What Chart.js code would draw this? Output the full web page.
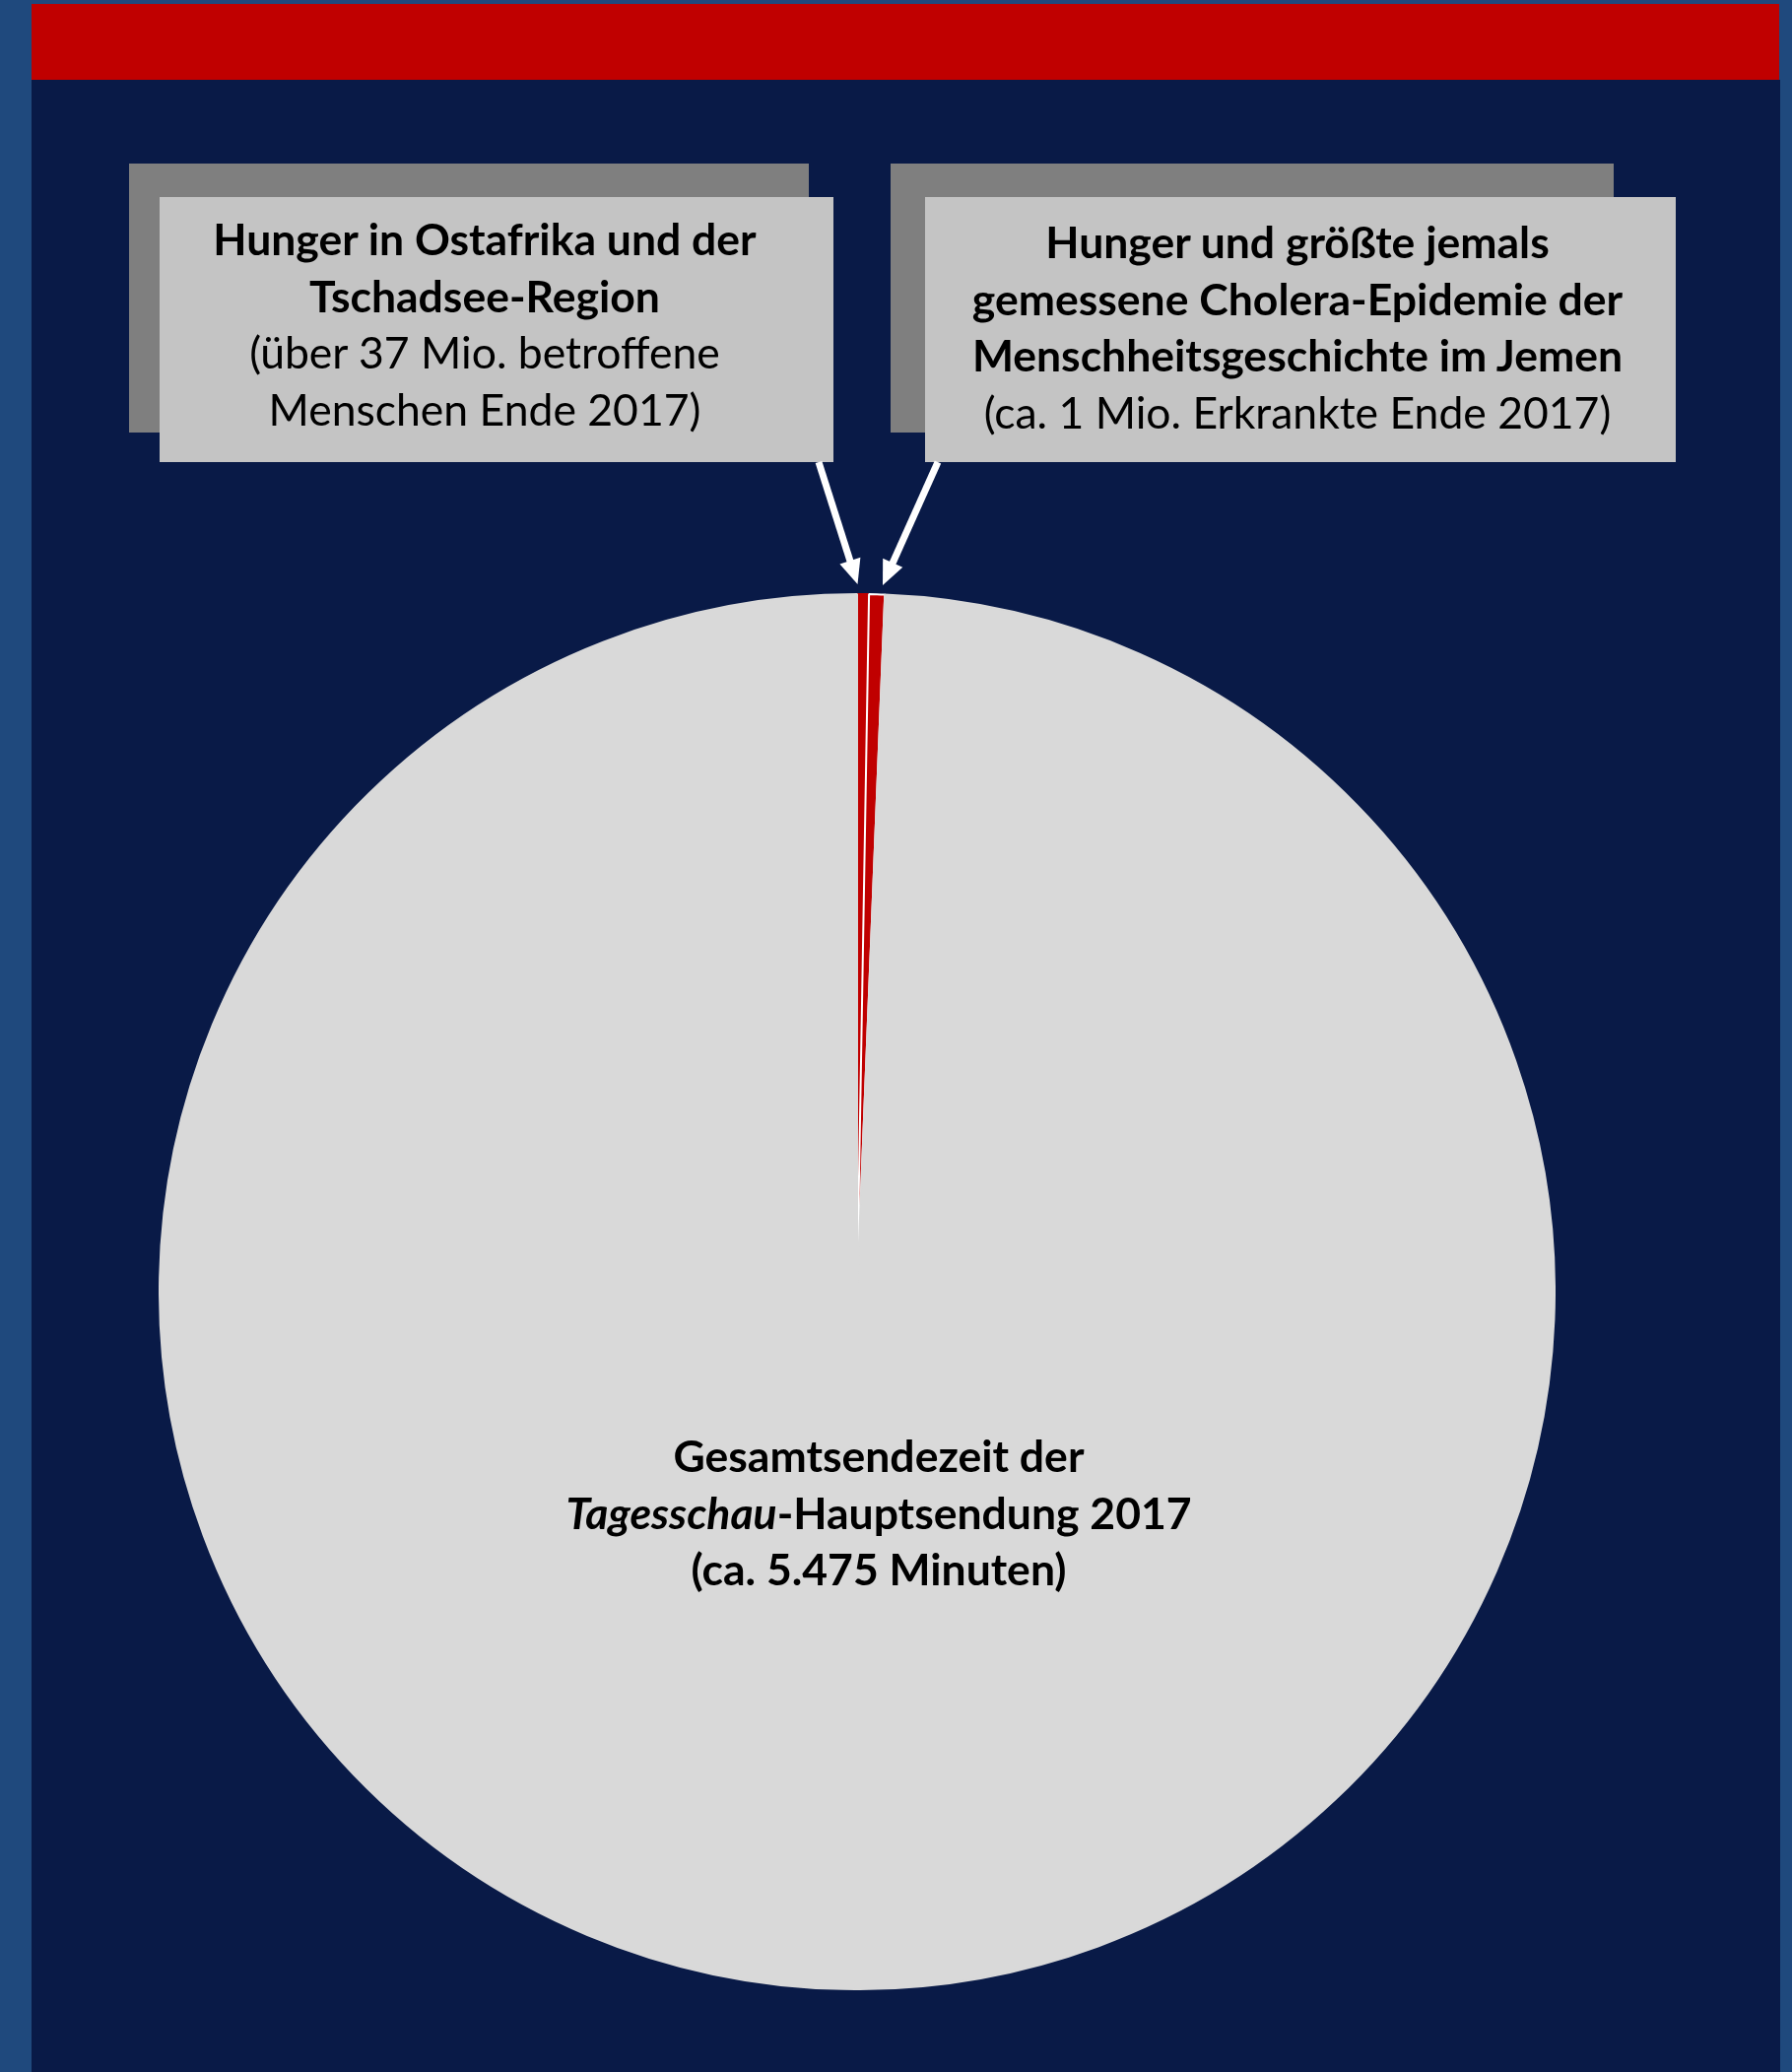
<!DOCTYPE html>
<html lang="de">
<head>
<meta charset="utf-8">
<script src="https://cdn.jsdelivr.net/npm/chart.js@4.4.1/dist/chart.umd.min.js"></script>
<style>
  html, body { margin: 0; padding: 0; }
  body { width: 1819px; height: 2103px; background: #1F497D; position: relative; overflow: hidden; font-family: Lato, "Open Sans", sans-serif; }
  #panel { position: absolute; left: 32px; top: 81px; width: 1775px; height: 2022px; background: #091A47; }
  #topbar { position: absolute; left: 32px; top: 4px; width: 1774px; height: 77px; background: #C00000; }
  .shadow { position: absolute; background: #7F7F7F; }
  .front { position: absolute; background: #C4C4C4; }
  .txt { position: absolute; text-align: center; color: #000; font-size: 44.5px; line-height: 57.5px; white-space: nowrap; transform: translateX(-50%); }
  .b { font-weight: 700; }
  #chartBox { position: absolute; left: 161px; top: 601.5px; width: 1418px; height: 1418px; }
  #arrows { position: absolute; left: 0; top: 0; }
</style>
</head>
<body>
<div id="topbar"></div>
<div id="panel"></div>
<div class="shadow" style="left:131px;top:166px;width:690px;height:273px;"></div>
<div class="front" style="left:162px;top:200px;width:684px;height:269px;"></div>
<div class="shadow" style="left:904px;top:166px;width:734px;height:273px;"></div>
<div class="front" style="left:939px;top:200px;width:762px;height:269px;"></div>
<div id="chartBox"><canvas id="c" width="1418" height="1418"></canvas></div>
<svg id="arrows" width="1819" height="2103"></svg>
<div class="txt" id="lbl0" style="left:492px;top:213px;"></div>
<div class="txt" id="lbl1" style="left:1317px;top:216px;"></div>
<div class="txt" id="lbl2" style="left:892px;top:1448px;"></div>
<script>
// ---- data ----
const categories = [
  "Hunger in Ostafrika und der Tschadsee-Region",
  "Hunger und Cholera-Epidemie im Jemen",
  "Gesamtsendezeit der Tagesschau-Hauptsendung 2017"
];
const minutes = [15, 20, 5475];
const sliceColors = ["#C00000", "#C00000", "#D9D9D9"];
const sliceBorders = ["#C00000", "#FFFFFF", "#D9D9D9"];
const boxTitles = [
  ["Hunger in Ostafrika und der", "Tschadsee-Region"],
  ["Hunger und größte jemals", "gemessene Cholera-Epidemie der", "Menschheitsgeschichte im Jemen"]
];
const boxNotes = [
  ["(über 37 Mio. betroffene", "Menschen Ende 2017)"],
  ["(ca. 1 Mio. Erkrankte Ende 2017)"]
];
const centerLines = ["Gesamtsendezeit der", "<i>Tagesschau</i>-Hauptsendung 2017", "(ca. 5.475 Minuten)"];

// ---- text ----
for (let i = 0; i < 2; i++) {
  const el = document.getElementById("lbl" + i);
  el.innerHTML = boxTitles[i].map(t => '<div class="b">' + t + '</div>').join("") +
                 boxNotes[i].map(t => '<div>' + t + '</div>').join("");
}
document.getElementById("lbl2").innerHTML = centerLines.map(t => '<div class="b">' + t + '</div>').join("");

// ---- arrows ----
function arrow(svg, x1, y1, x2, y2) {
  const ns = "http://www.w3.org/2000/svg";
  const dx = x2 - x1, dy = y2 - y1, L = Math.hypot(dx, dy);
  const ux = dx / L, uy = dy / L, px = -uy, py = ux;
  const hl = 25, hw = 11;
  const bx = x2 - ux * hl, by = y2 - uy * hl;
  const line = document.createElementNS(ns, "line");
  line.setAttribute("x1", x1); line.setAttribute("y1", y1);
  line.setAttribute("x2", bx + ux * 2); line.setAttribute("y2", by + uy * 2);
  line.setAttribute("stroke", "#FFFFFF"); line.setAttribute("stroke-width", 7);
  svg.appendChild(line);
  const poly = document.createElementNS(ns, "polygon");
  poly.setAttribute("points", `${x2},${y2} ${bx + px * hw},${by + py * hw} ${bx - px * hw},${by - py * hw}`);
  poly.setAttribute("fill", "#FFFFFF");
  svg.appendChild(poly);
}
const svg = document.getElementById("arrows");
arrow(svg, 831, 469, 870.5, 593);
arrow(svg, 952, 469, 896, 594);

// ---- chart ----
new Chart(document.getElementById("c"), {
  type: "pie",
  data: {
    labels: categories,
    datasets: [{
      data: minutes,
      backgroundColor: sliceColors,
      borderColor: sliceBorders,
      borderWidth: 2,
      hoverBorderWidth: 2,
      hoverOffset: 0,
      offset: 0
    }]
  },
  options: {
    responsive: false,
    animation: false,
    devicePixelRatio: 1,
    events: [],
    layout: { padding: 0 },
    plugins: { legend: { display: false }, tooltip: { enabled: false } }
  }
});
</script>
</body>
</html>
